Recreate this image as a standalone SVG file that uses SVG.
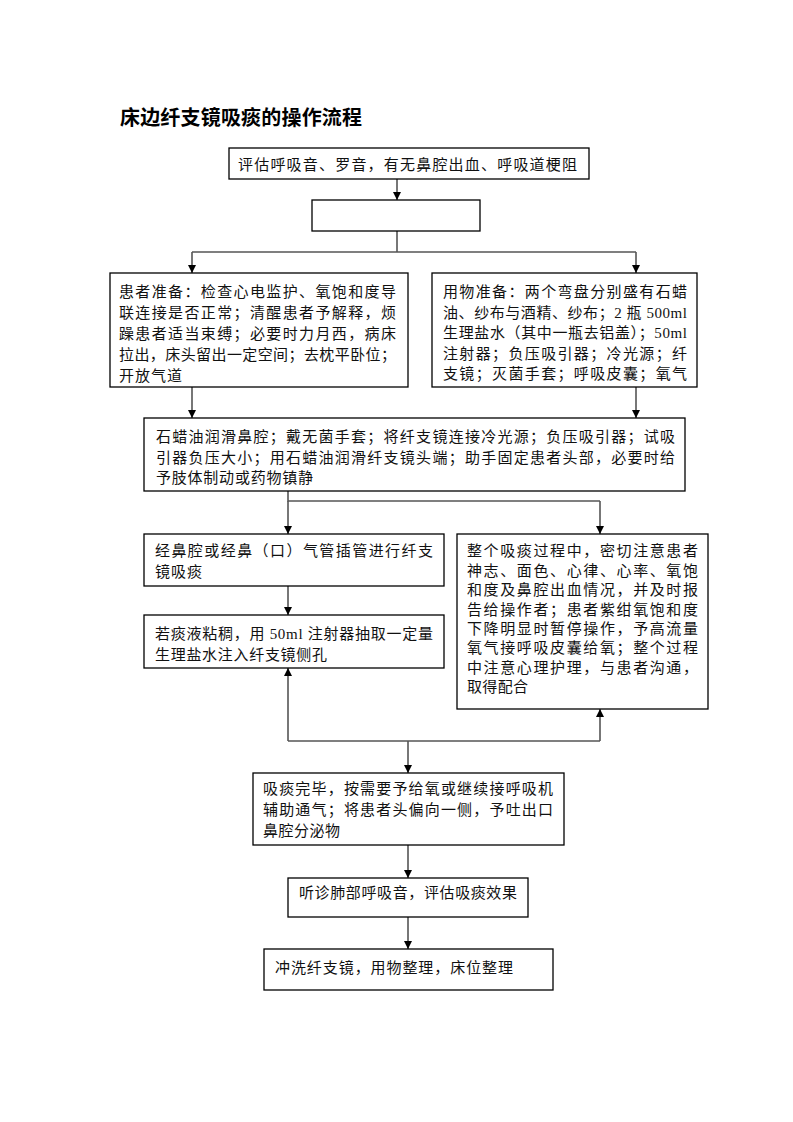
<svg xmlns="http://www.w3.org/2000/svg" width="793" height="1122" viewBox="0 0 793 1122">
<style>
.box{fill:#fff;stroke:#000;stroke-width:1.3}
.t{font-family:"Liberation Serif","Noto Sans CJK SC",serif;font-size:15px;fill:#111}
.title{font-family:"Noto Sans CJK SC",sans-serif;font-size:20px;font-weight:bold;fill:#000}
.c{fill:none;stroke:#555;stroke-width:1.6}
</style>
<defs>
<marker id="ah" markerUnits="userSpaceOnUse" markerWidth="9" markerHeight="9" refX="8" refY="4" orient="auto">
<path d="M0,0 L8,4 L0,8 z" fill="#000"/>
</marker>
</defs>
<rect width="793" height="1122" fill="#fff"/>
<text class="title" x="120" y="125" textLength="242" lengthAdjust="spacing">床边纤支镜吸痰的操作流程</text>

<g id="connectors">
<line class="c" x1="397" y1="179" x2="397" y2="200" marker-end="url(#ah)"/>
<polyline class="c" points="397,231 397,252"/>
<polyline class="c" points="192,252 636,252"/>
<line class="c" x1="192" y1="252" x2="192" y2="273" marker-end="url(#ah)"/>
<line class="c" x1="636" y1="252" x2="636" y2="273" marker-end="url(#ah)"/>
<line class="c" x1="192" y1="387" x2="192" y2="418" marker-end="url(#ah)"/>
<line class="c" x1="636" y1="387" x2="636" y2="418" marker-end="url(#ah)"/>
<polyline class="c" points="288,491 288,501 600,501"/>
<line class="c" x1="288" y1="501" x2="288" y2="534" marker-end="url(#ah)"/>
<line class="c" x1="600" y1="501" x2="600" y2="534" marker-end="url(#ah)"/>
<line class="c" x1="288" y1="586" x2="288" y2="615" marker-end="url(#ah)"/>
<polyline class="c" points="288,741 600,741"/>
<line class="c" x1="288" y1="741" x2="288" y2="668" marker-end="url(#ah)"/>
<line class="c" x1="600" y1="741" x2="600" y2="709" marker-end="url(#ah)"/>
<line class="c" x1="408" y1="741" x2="408" y2="773" marker-end="url(#ah)"/>
<line class="c" x1="408" y1="845" x2="408" y2="878" marker-end="url(#ah)"/>
<line class="c" x1="408" y1="917" x2="408" y2="949" marker-end="url(#ah)"/>
</g>

<g id="n1">
<rect class="box" x="229" y="148" width="360" height="31"/>
<text class="t" x="238" y="170" textLength="339" lengthAdjust="spacing">评估呼吸音、罗音，有无鼻腔出血、呼吸道梗阻</text>
</g>
<g id="n2">
<rect class="box" x="312" y="200" width="168" height="31"/>
</g>
<g id="n3">
<rect class="box" x="110" y="273" width="298" height="114"/>
<text class="t" x="119" y="297" textLength="277" lengthAdjust="spacing">患者准备：检查心电监护、氧饱和度导</text>
<text class="t" x="119" y="318" textLength="277" lengthAdjust="spacing">联连接是否正常；清醒患者予解释，烦</text>
<text class="t" x="119" y="339" textLength="277" lengthAdjust="spacing">躁患者适当束缚；必要时力月西，病床</text>
<text class="t" x="119" y="360" textLength="277" lengthAdjust="spacing">拉出，床头留出一定空间；去枕平卧位；</text>
<text class="t" x="119" y="381" textLength="63" lengthAdjust="spacing">开放气道</text>
</g>
<g id="n4">
<rect class="box" x="432" y="273" width="265" height="114"/>
<text class="t" x="443" y="297" textLength="244" lengthAdjust="spacing">用物准备：两个弯盘分别盛有石蜡</text>
<text class="t" x="443" y="318" textLength="244" lengthAdjust="spacing">油、纱布与酒精、纱布；2 瓶 500ml</text>
<text class="t" x="443" y="338" textLength="244" lengthAdjust="spacing">生理盐水（其中一瓶去铝盖）；50ml</text>
<text class="t" x="443" y="359" textLength="244" lengthAdjust="spacing">注射器；负压吸引器；冷光源；纤</text>
<text class="t" x="443" y="379" textLength="244" lengthAdjust="spacing">支镜；灭菌手套；呼吸皮囊；氧气</text>
</g>
<g id="n5">
<rect class="box" x="144" y="418" width="541" height="73"/>
<text class="t" x="156" y="442" textLength="519" lengthAdjust="spacing">石蜡油润滑鼻腔；戴无菌手套；将纤支镜连接冷光源；负压吸引器；试吸</text>
<text class="t" x="156" y="463" textLength="519" lengthAdjust="spacing">引器负压大小；用石蜡油润滑纤支镜头端；助手固定患者头部，必要时给</text>
<text class="t" x="156" y="483" textLength="157" lengthAdjust="spacing">予肢体制动或药物镇静</text>
</g>
<g id="n6">
<rect class="box" x="144" y="534" width="300" height="52"/>
<text class="t" x="155" y="556" textLength="278" lengthAdjust="spacing">经鼻腔或经鼻（口）气管插管进行纤支</text>
<text class="t" x="155" y="577" textLength="47" lengthAdjust="spacing">镜吸痰</text>
</g>
<g id="n7">
<rect class="box" x="144" y="615" width="300" height="53"/>
<text class="t" x="155" y="639" textLength="278" lengthAdjust="spacing">若痰液粘稠，用 50ml 注射器抽取一定量</text>
<text class="t" x="155" y="660" textLength="172" lengthAdjust="spacing">生理盐水注入纤支镜侧孔</text>
</g>
<g id="n8">
<rect class="box" x="457" y="534" width="251" height="175"/>
<text class="t" x="467" y="556" textLength="231" lengthAdjust="spacing">整个吸痰过程中，密切注意患者</text>
<text class="t" x="467" y="576" textLength="231" lengthAdjust="spacing">神志、面色、心律、心率、氧饱</text>
<text class="t" x="467" y="595" textLength="231" lengthAdjust="spacing">和度及鼻腔出血情况，并及时报</text>
<text class="t" x="467" y="615" textLength="231" lengthAdjust="spacing">告给操作者；患者紫绀氧饱和度</text>
<text class="t" x="467" y="634" textLength="231" lengthAdjust="spacing">下降明显时暂停操作，予高流量</text>
<text class="t" x="467" y="653" textLength="231" lengthAdjust="spacing">氧气接呼吸皮囊给氧；整个过程</text>
<text class="t" x="467" y="673" textLength="231" lengthAdjust="spacing">中注意心理护理，与患者沟通，</text>
<text class="t" x="467" y="692" textLength="61" lengthAdjust="spacing">取得配合</text>
</g>
<g id="n9">
<rect class="box" x="253" y="773" width="311" height="72"/>
<text class="t" x="263" y="794" textLength="290" lengthAdjust="spacing">吸痰完毕，按需要予给氧或继续接呼吸机</text>
<text class="t" x="263" y="815" textLength="290" lengthAdjust="spacing">辅助通气；将患者头偏向一侧，予吐出口</text>
<text class="t" x="263" y="836" textLength="77" lengthAdjust="spacing">鼻腔分泌物</text>
</g>
<g id="n10">
<rect class="box" x="288" y="878" width="240" height="39"/>
<text class="t" x="299" y="898" textLength="218" lengthAdjust="spacing">听诊肺部呼吸音，评估吸痰效果</text>
</g>
<g id="n11">
<rect class="box" x="264" y="949" width="289" height="41"/>
<text class="t" x="275" y="973" textLength="238" lengthAdjust="spacing">冲洗纤支镜，用物整理，床位整理</text>
</g>
</svg>
